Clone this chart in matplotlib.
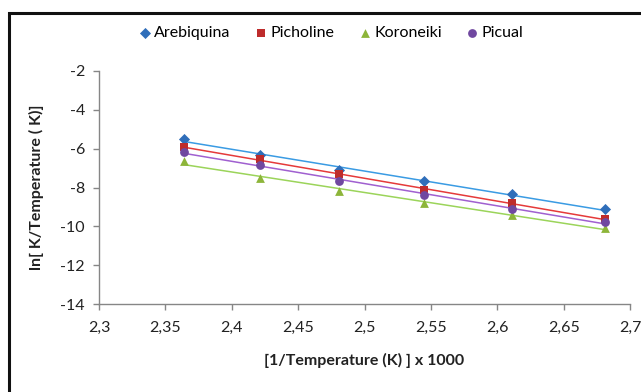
import numpy as np
import matplotlib
matplotlib.use("Agg")
import matplotlib.pyplot as plt
from matplotlib.patches import Rectangle
from matplotlib.ticker import FuncFormatter, MultipleLocator

plt.rcParams['font.family'] = ['Lato', 'DejaVu Sans']

# 1/T x 1000 for the six temperatures
inv_temp = [2.364, 2.421, 2.481, 2.545, 2.611, 2.681]

arebiquina = [-5.50, -6.31, -7.08, -7.69, -8.36, -9.13]
picholine = [-5.93, -6.53, -7.33, -8.15, -8.78, -9.64]
koroneiki = [-6.65, -7.50, -8.19, -8.78, -9.44, -10.07]
picual = [-6.19, -6.82, -7.68, -8.39, -9.13, -9.76]

series = [
    ('Arebiquina', arebiquina, 'D', '#2F6EBA', '#3A9BE3'),
    ('Picholine', picholine, 's', '#BE2C2C', '#E53A3A'),
    ('Koroneiki', koroneiki, '^', '#8DB53A', '#9BD45A'),
    ('Picual', picual, 'o', '#7048A0', '#A060D0'),
]

fig = plt.figure(figsize=(6.41, 3.92), dpi=100)
ax = fig.add_axes([99 / 641, 1 - 304 / 392, 531 / 641, 233 / 392])

x = np.array(inv_temp)
for name, vals, mk, mcol, lcol in series:
    ax.scatter(x, vals, marker=mk, s=40 if mk != 'D' else 32, color=mcol,
               label=name, zorder=3, linewidths=0)
    # linear trendline
    k, b = np.polyfit(x, vals, 1)
    ax.plot(x, k * x + b, color=lcol, lw=1.1, zorder=2)

ax.set_xlim(2.3, 2.7)
ax.set_ylim(-14, -2)
ax.xaxis.set_major_locator(MultipleLocator(0.05))
ax.yaxis.set_major_locator(MultipleLocator(2))
ax.xaxis.set_major_formatter(FuncFormatter(lambda v, p: f'{v:g}'.replace('.', ',')))
ax.yaxis.set_major_formatter(FuncFormatter(lambda v, p: f'{v:g}'))

for s in ['top', 'right']:
    ax.spines[s].set_visible(False)
for s in ['left', 'bottom']:
    ax.spines[s].set_color('#868686')
    ax.spines[s].set_linewidth(1.0)
ax.tick_params(colors='#868686', labelcolor='#222222', labelsize=11.5, length=4, width=1)
ax.tick_params(axis='x', pad=8)
ax.tick_params(axis='y', pad=6)

ax.set_xlabel('[1/Temperature (K) ] x 1000', fontsize=11.5, fontweight='bold',
              color='#222222', labelpad=13)
ax.set_ylabel('ln[ K/Temperature ( K)]', fontsize=11.5, fontweight='bold',
              color='#222222', labelpad=12)

fig.legend(loc='center', bbox_to_anchor=(0.515, 0.916), ncol=4, frameon=False,
           fontsize=11.5, handletextpad=0.1, columnspacing=1.4, handlelength=1.0,
           scatterpoints=1)

# outer border of the chart area
fig.patches.append(Rectangle((9 / 641, -0.1), 1.2, 1.1 - 13 / 392,
                             transform=fig.transFigure, fill=False,
                             edgecolor='#111111', lw=2.2))

fig.savefig('out.png', dpi=100)
